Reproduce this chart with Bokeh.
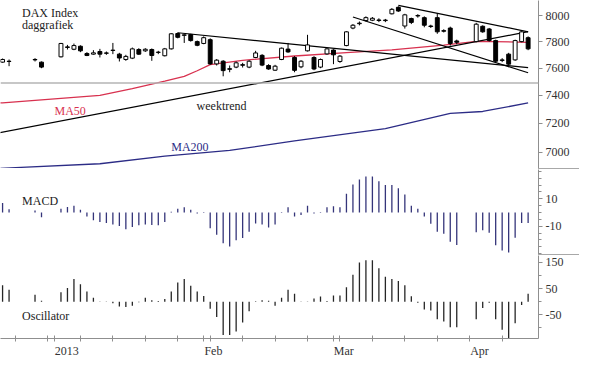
import numpy as np
from bokeh.plotting import figure
from bokeh.layouts import column, row
from bokeh.models import (ColumnDataSource, FixedTicker, Span, Label, Range1d, Div, Spacer,
                          PrintfTickFormatter, CustomJSTickFormatter)
from bokeh.embed import file_html
from bokeh.resources import INLINE

# ---------------- data ----------------
dates = ["2012-12-20", "2012-12-21", "2012-12-27", "2012-12-28",
         "2013-01-02", "2013-01-03", "2013-01-04", "2013-01-07", "2013-01-08", "2013-01-09",
         "2013-01-10", "2013-01-11", "2013-01-14", "2013-01-15", "2013-01-16", "2013-01-17",
         "2013-01-18", "2013-01-21", "2013-01-22", "2013-01-23", "2013-01-24", "2013-01-25",
         "2013-01-28", "2013-01-29", "2013-01-30", "2013-01-31",
         "2013-02-01", "2013-02-04", "2013-02-05", "2013-02-06", "2013-02-07", "2013-02-08",
         "2013-02-11", "2013-02-12", "2013-02-13", "2013-02-14", "2013-02-15", "2013-02-18",
         "2013-02-19", "2013-02-20", "2013-02-21", "2013-02-22", "2013-02-25", "2013-02-26",
         "2013-02-27", "2013-02-28",
         "2013-03-01", "2013-03-04", "2013-03-05", "2013-03-06", "2013-03-07", "2013-03-08",
         "2013-03-11", "2013-03-12", "2013-03-13", "2013-03-14", "2013-03-15", "2013-03-18",
         "2013-03-19", "2013-03-20", "2013-03-21", "2013-03-22", "2013-03-25", "2013-03-26",
         "2013-03-27", "2013-03-28",
         "2013-04-02", "2013-04-03", "2013-04-04", "2013-04-05", "2013-04-08", "2013-04-09",
         "2013-04-10", "2013-04-11", "2013-04-12"]

opens = [7645, 7652, 7665, 7645,
         7685, 7760, 7742, 7765, 7710, 7705, 7725, 7714, 7735, 7705, 7665, 7675, 7740, 7730,
         7740, 7718, 7693, 7745, 7862, 7848, 7855, 7800,
         7786, 7815, 7632, 7652, 7596, 7608, 7626, 7608, 7680, 7696, 7620, 7585, 7665, 7743,
         7680, 7610, 7730, 7680, 7608, 7707,
         7736, 7650, 7770, 7904, 7938, 7963, 7965, 7967, 7962, 8015, 8066, 7920, 7978, 7998,
         7985, 7920, 7985, 7884, 7904, 7805,
         7800, 7918, 7897, 7808, 7662, 7705, 7662, 7800, 7830]
highs = [7672, 7665, 7675, 7650,
         7790, 7775, 7785, 7772, 7720, 7735, 7745, 7725, 7790, 7715, 7700, 7755, 7750, 7750,
         7748, 7730, 7752, 7865, 7870, 7858, 7860, 7808,
         7840, 7825, 7668, 7660, 7620, 7650, 7640, 7660, 7730, 7705, 7630, 7625, 7755, 7790,
         7690, 7660, 7852, 7690, 7672, 7752,
         7742, 7698, 7880, 7935, 7955, 7995, 7990, 7980, 7975, 8060, 8074, 8015, 7985, 8012,
         7995, 7930, 8020, 7895, 7915, 7815,
         7945, 7925, 7905, 7815, 7675, 7715, 7815, 7885, 7840]
lows = [7640, 7615, 7650, 7600,
        7680, 7740, 7735, 7720, 7690, 7700, 7680, 7700, 7705, 7650, 7655, 7668, 7700, 7722,
        7655, 7705, 7688, 7740, 7825, 7790, 7800, 7765,
        7780, 7625, 7620, 7540, 7570, 7600, 7605, 7600, 7675, 7615, 7588, 7580, 7660, 7715,
        7570, 7600, 7725, 7585, 7600, 7700,
        7630, 7640, 7765, 7895, 7925, 7955, 7958, 7950, 7950, 8010, 8030, 7900, 7935, 7985,
        7910, 7905, 7860, 7870, 7770, 7780,
        7795, 7868, 7800, 7640, 7645, 7608, 7655, 7795, 7735]
closes = [7665, 7650, 7662, 7608,
          7786, 7756, 7770, 7730, 7695, 7715, 7705, 7712, 7733, 7676, 7688, 7745, 7705, 7742,
          7695, 7720, 7745, 7860, 7833, 7852, 7808, 7772,
          7830, 7632, 7660, 7582, 7592, 7640, 7622, 7652, 7714, 7623, 7594, 7615, 7750, 7722,
          7584, 7652, 7775, 7594, 7665, 7745,
          7700, 7690, 7875, 7926, 7942, 7985, 7980, 7963, 7966, 8050, 8037, 8007, 7948, 8002,
          7926, 7916, 7875, 7880, 7786, 7795,
          7934, 7875, 7808, 7652, 7658, 7630, 7808, 7875, 7745]

macd = [7.0, 2.3, 1.5, -3.5,
        2.8, 4.0, 5.0, 2.0, -3.0, -5.7, -7.0, -7.6, -8.7, -9.9, -12.2, -10.6, -9.4, -8.7,
        -9.2, -9.4, -6.9, 0.5, 2.8, 3.9, 2.0, -0.7,
        0.4, -11.5, -16.3, -22.5, -24.8, -20.2, -18.6, -14.0, -8.0, -8.7, -11.0, -8.7, -0.4, 3.9,
        -3.0, -1.8, 5.0, -0.7, 0.3, 3.9,
        4.6, 3.9, 13.6, 20.5, 24.1, 26.2, 26.2, 22.8, 20.0, 20.0, 17.7, 13.1, 5.0, 2.8,
        -3.0, -8.3, -14.0, -15.6, -21.4, -23.7,
        -14.5, -13.0, -14.8, -24.0, -27.7, -29.3, -18.5, -7.6, -7.6]

oscillator = [63, 46, 27, 4,
              36, 52, 87, 67, 39, 15, 1, 1, -6, -18, -20, -15, -2, 15,
              6, 3, 10, 39, 73, 87, 61, 39,
              22, -27, -58, -127, -127, -113, -79, -36, 2, 6, 4, -15, 15, 46,
              30, 1, 1, 12, 20, 3,
              24, 24, 55, 103, 149, 158, 158, 127, 95, 87, 79, 63, 21, -4,
              -30, -33, -67, -75, -97, -97,
              -67, -24, -4, -67, -107, -139, -82, -12, 30]

ma50_dates = ["2012-12-19", "2012-12-20", "2013-01-10", "2013-01-17", "2013-01-24", "2013-01-29",
              "2013-01-31", "2013-02-04", "2013-02-11", "2013-02-21", "2013-03-05", "2013-03-14",
              "2013-03-26", "2013-04-02", "2013-04-12"]
ma50 = [7348, 7346, 7400, 7449, 7504, 7539, 7581, 7627, 7659, 7691, 7716, 7737, 7773, 7802, 7795]

ma200_dates = ["2012-12-19", "2013-01-10", "2013-01-24", "2013-02-07", "2013-02-21",
               "2013-03-13", "2013-03-27", "2013-04-03", "2013-04-12"]
ma200 = [6890, 6922, 6974, 7013, 7078, 7164, 7271, 7285, 7346]

# trend lines: start date, start value, end date, end value
trend_start_dates = ["2012-12-19", "2013-01-28", "2013-03-06", "2013-03-15"]
trend_start_values = [7131, 7868, 7990, 8082]
trend_end_dates = ["2013-04-12", "2013-04-12", "2013-04-12", "2013-04-12"]
trend_end_values = [7876, 7604, 7566, 7875]

separator_level = 7490

price_ticks = [7000, 7200, 7400, 7600, 7800, 8000]
macd_ticks = [-10, 10]
macd_minor = [-30, -25, -20, -15, -5, 0, 5, 15, 20, 25, 30]
osc_ticks = [-50, 50, 150]
osc_minor = [-100, 0, 100]

month_starts = ["2013-01-01", "2013-02-01", "2013-03-01", "2013-04-01"]
month_labels = ["2013", "Feb", "Mar", "Apr"]

# ---------------- helpers ----------------
ORIGIN = np.datetime64("2012-12-20")


def slot(d):
    d = np.datetime64(d)
    if d >= ORIGIN:
        return int(np.busday_count(ORIGIN, d))
    return -int(np.busday_count(d, ORIGIN))


xs = np.array([slot(d) for d in dates], dtype=float)
o = np.array(opens, float)
c = np.array(closes, float)

mondays = [slot(d) for d in np.arange(np.datetime64("2012-12-24"), np.datetime64("2013-04-13"),
                                      np.timedelta64(7, "D"))]
month_slots = [slot(d) for d in month_starts]
label_offsets = [1.9, 1.5, 1.6, 1.5]
label_pos = [m + off for m, off in zip(month_slots, label_offsets)]

FONT = "Liberation Serif"
AX = "#8f8f8f"
FW = 538
RB = 41
xr = Range1d(-0.32, 82.6)


def base(h, ytype="linear", yr=None, xloc=None):
    p = figure(frame_width=FW, frame_height=h, x_range=xr, y_range=yr,
               y_axis_type=ytype, y_axis_location="right", x_axis_location=xloc,
               toolbar_location=None, output_backend="svg", min_border=0,
               min_border_right=RB, outline_line_color=None, background_fill_color="white",
               border_fill_color="white")
    p.xgrid.visible = False
    p.ygrid.visible = False
    ax = p.yaxis[0]
    ax.axis_line_color = AX
    ax.major_tick_line_color = AX
    ax.minor_tick_line_color = AX
    ax.major_tick_out = 4
    ax.major_tick_in = 0
    ax.minor_tick_out = 3
    ax.minor_tick_in = 0
    ax.major_label_text_font = FONT
    ax.major_label_text_font_size = "12px"
    ax.major_label_text_color = "#333333"
    ax.major_label_standoff = 3
    ax.formatter = PrintfTickFormatter(format="%d")
    return p


def label(p, x, y, text, color="#222222"):
    p.add_layout(Label(x=x, y=y, text=text, text_font=FONT, text_font_size="12px",
                       text_color=color, text_baseline="alphabetic"))


def axis_separator():
    # thin grey rule across the axis strip between two panels
    return row(Spacer(width=FW, height=1, margin=0),
               Div(text="", width=RB, height=1, margin=0,
                   styles={"background-color": "#a8a8a8"}),
               spacing=0, margin=0)


# ---------------- price panel ----------------
p1 = base(168, "log", Range1d(6890, 8120))
p1.yaxis[0].ticker = FixedTicker(ticks=price_ticks, minor_ticks=[])

p1.add_layout(Span(location=separator_level, dimension="width", line_color="#b4b4b4",
                   line_width=1.5))

p1.line([slot(d) for d in ma200_dates], ma200, line_color="#2c2c86", line_width=1.3)
p1.line([slot(d) for d in ma50_dates], ma50, line_color="#d8314f", line_width=1.3)

p1.segment(x0=[slot(d) for d in trend_start_dates], y0=trend_start_values,
           x1=[slot(d) for d in trend_end_dates], y1=trend_end_values,
           line_color="black", line_width=1.2)

src = ColumnDataSource(dict(x=xs, top=np.maximum(o, c), bottom=np.minimum(o, c),
                            high=highs, low=lows,
                            fill=["white" if cc >= oo else "black" for oo, cc in zip(o, c)]))
p1.segment(x0="x", y0="low", x1="x", y1="high", source=src, line_color="black", line_width=1)
p1.vbar(x="x", width=0.6, top="top", bottom="bottom", fill_color="fill", line_color="black",
        line_width=1, source=src)

label(p1, 3.0, 8022, "DAX Index")
label(p1, 3.0, 7926, "daggrafiek")
label(p1, 8.0, 7291, "MA50", "#d8314f")
label(p1, 29.9, 7325, "weektrend")
label(p1, 26.0, 7039, "MA200", "#2c2c86")

# ---------------- MACD panel ----------------
p2 = base(85, "linear", Range1d(-30.7, 31.4))
p2.yaxis[0].ticker = FixedTicker(ticks=macd_ticks, minor_ticks=macd_minor)
p2.segment(x0=xs, y0=np.zeros(len(xs)), x1=xs, y1=macd, line_color="#35357a", line_width=1.3)
label(p2, 3.0, 8.6, "MACD")

# ---------------- Oscillator panel ----------------
p3 = base(83, "linear", Range1d(-140, 176), xloc="below")
p3.yaxis[0].ticker = FixedTicker(ticks=osc_ticks, minor_ticks=osc_minor)
p3.segment(x0=xs, y0=np.zeros(len(xs)), x1=xs, y1=oscillator, line_color="#262626",
           line_width=1.3)
label(p3, 3.0, -52.7, "Oscillator")

xa = p3.xaxis[0]
xa.ticker = FixedTicker(ticks=label_pos, minor_ticks=sorted(set(mondays + month_slots)))
xa.formatter = CustomJSTickFormatter(args=dict(pos=label_pos, lab=month_labels), code="""
const i = pos.findIndex(p => Math.abs(p - tick) < 1e-6);
return i >= 0 ? lab[i] : "";
""")
xa.axis_line_color = AX
xa.major_tick_line_color = None
xa.minor_tick_line_color = AX
xa.minor_tick_in = 3
xa.minor_tick_out = 3
xa.major_tick_out = 0
xa.major_tick_in = 0
xa.major_label_standoff = 2
xa.major_label_text_font = FONT
xa.major_label_text_font_size = "12px"
xa.major_label_text_color = "#333333"

layout = column(p1, axis_separator(), p2, axis_separator(), p3, spacing=0)
open("out.html", "w").write(file_html(layout, INLINE))
